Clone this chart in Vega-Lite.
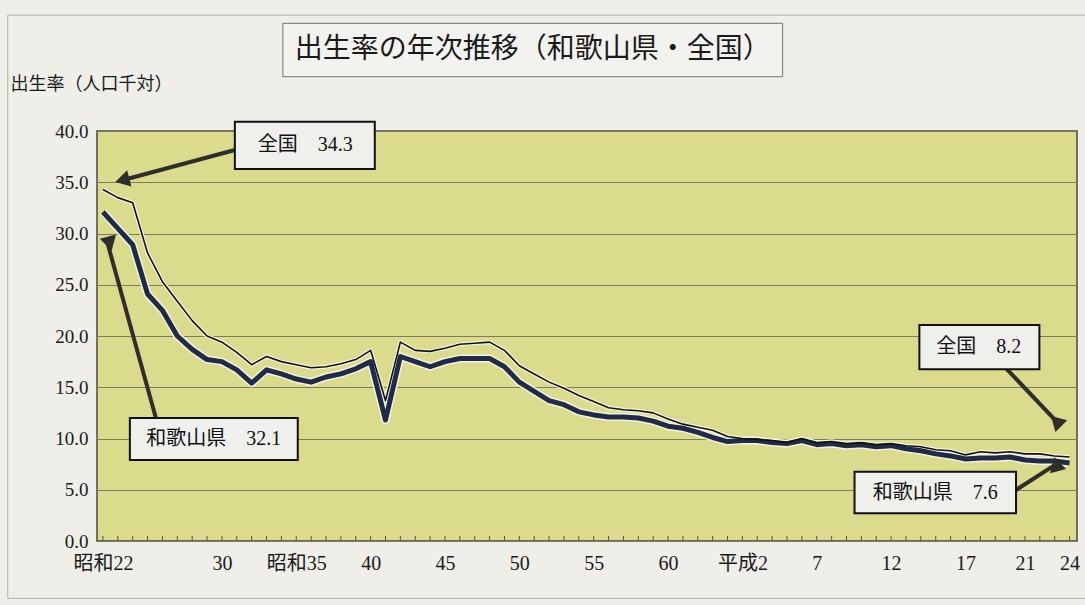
{
  "$schema": "https://vega.github.io/schema/vega-lite/v6.json",
  "autosize": {"type": "none"},
  "width": 980,
  "height": 410,
  "padding": {"left": 97, "top": 131, "right": 8, "bottom": 64},
  "background": "#efeee8",
  "config": {
    "view": {"fill": "#dbdb8e", "stroke": "#4a4a40", "strokeWidth": 1.5},
    "font": "Liberation Serif, Noto Sans CJK JP"
  },
  "datasets": {
    "rates": [
      {"year": 1947, "national": 34.3, "wakayama": 32.1},
      {"year": 1948, "national": 33.5, "wakayama": 30.5},
      {"year": 1949, "national": 33.0, "wakayama": 28.9},
      {"year": 1950, "national": 28.1, "wakayama": 24.1},
      {"year": 1951, "national": 25.3, "wakayama": 22.5},
      {"year": 1952, "national": 23.4, "wakayama": 20.0},
      {"year": 1953, "national": 21.5, "wakayama": 18.7},
      {"year": 1954, "national": 20.0, "wakayama": 17.7},
      {"year": 1955, "national": 19.4, "wakayama": 17.5},
      {"year": 1956, "national": 18.4, "wakayama": 16.7},
      {"year": 1957, "national": 17.2, "wakayama": 15.4},
      {"year": 1958, "national": 18.0, "wakayama": 16.7},
      {"year": 1959, "national": 17.5, "wakayama": 16.3},
      {"year": 1960, "national": 17.2, "wakayama": 15.8},
      {"year": 1961, "national": 16.9, "wakayama": 15.5},
      {"year": 1962, "national": 17.0, "wakayama": 16.0},
      {"year": 1963, "national": 17.3, "wakayama": 16.3},
      {"year": 1964, "national": 17.7, "wakayama": 16.8},
      {"year": 1965, "national": 18.6, "wakayama": 17.5},
      {"year": 1966, "national": 13.7, "wakayama": 11.8},
      {"year": 1967, "national": 19.4, "wakayama": 18.0},
      {"year": 1968, "national": 18.6, "wakayama": 17.5},
      {"year": 1969, "national": 18.5, "wakayama": 17.0},
      {"year": 1970, "national": 18.8, "wakayama": 17.5},
      {"year": 1971, "national": 19.2, "wakayama": 17.8},
      {"year": 1972, "national": 19.3, "wakayama": 17.8},
      {"year": 1973, "national": 19.4, "wakayama": 17.8},
      {"year": 1974, "national": 18.6, "wakayama": 17.0},
      {"year": 1975, "national": 17.1, "wakayama": 15.5},
      {"year": 1976, "national": 16.3, "wakayama": 14.6},
      {"year": 1977, "national": 15.5, "wakayama": 13.7},
      {"year": 1978, "national": 14.9, "wakayama": 13.3},
      {"year": 1979, "national": 14.2, "wakayama": 12.6},
      {"year": 1980, "national": 13.6, "wakayama": 12.3},
      {"year": 1981, "national": 13.0, "wakayama": 12.1},
      {"year": 1982, "national": 12.8, "wakayama": 12.1},
      {"year": 1983, "national": 12.7, "wakayama": 12.0},
      {"year": 1984, "national": 12.5, "wakayama": 11.7},
      {"year": 1985, "national": 11.9, "wakayama": 11.2},
      {"year": 1986, "national": 11.4, "wakayama": 11.0},
      {"year": 1987, "national": 11.1, "wakayama": 10.6},
      {"year": 1988, "national": 10.8, "wakayama": 10.1},
      {"year": 1989, "national": 10.2, "wakayama": 9.7},
      {"year": 1990, "national": 10.0, "wakayama": 9.8},
      {"year": 1991, "national": 9.9, "wakayama": 9.8},
      {"year": 1992, "national": 9.8, "wakayama": 9.6},
      {"year": 1993, "national": 9.6, "wakayama": 9.5},
      {"year": 1994, "national": 10.0, "wakayama": 9.8},
      {"year": 1995, "national": 9.6, "wakayama": 9.4},
      {"year": 1996, "national": 9.7, "wakayama": 9.5},
      {"year": 1997, "national": 9.5, "wakayama": 9.3},
      {"year": 1998, "national": 9.6, "wakayama": 9.4},
      {"year": 1999, "national": 9.4, "wakayama": 9.2},
      {"year": 2000, "national": 9.5, "wakayama": 9.3},
      {"year": 2001, "national": 9.3, "wakayama": 9.0},
      {"year": 2002, "national": 9.2, "wakayama": 8.8},
      {"year": 2003, "national": 8.9, "wakayama": 8.5},
      {"year": 2004, "national": 8.8, "wakayama": 8.3},
      {"year": 2005, "national": 8.4, "wakayama": 8.0},
      {"year": 2006, "national": 8.7, "wakayama": 8.1},
      {"year": 2007, "national": 8.6, "wakayama": 8.1},
      {"year": 2008, "national": 8.7, "wakayama": 8.2},
      {"year": 2009, "national": 8.5, "wakayama": 7.9},
      {"year": 2010, "national": 8.5, "wakayama": 7.8},
      {"year": 2011, "national": 8.3, "wakayama": 7.8},
      {"year": 2012, "national": 8.2, "wakayama": 7.6}
    ],
    "frame": [
      {"x1": 1940.6, "x2": 2014.5, "y1": 51.3, "y2": -5.6}
    ],
    "boxes": [
      {"id": "title", "x1": 1959.1, "x2": 1992.7, "y1": 50.5, "y2": 45.3},
      {"id": "b1", "x1": 1955.87, "x2": 1965.28, "y1": 40.9, "y2": 36.3},
      {"id": "b2", "x1": 1948.81, "x2": 1960.1, "y1": 12.0, "y2": 7.9},
      {"id": "b3", "x1": 2001.9, "x2": 2009.97, "y1": 21.07, "y2": 16.75},
      {"id": "b4", "x1": 1997.54, "x2": 2008.4, "y1": 6.76, "y2": 2.7}
    ],
    "arrows": [
      {"id": "a1", "x1": 1955.87, "y1": 38.15, "x2": 1948.3, "y2": 35.2},
      {"id": "a2", "x1": 1950.56, "y1": 12.0, "x2": 1947.26, "y2": 29.3},
      {"id": "a3", "x1": 2007.73, "y1": 16.85, "x2": 2011.1, "y2": 11.7},
      {"id": "a4", "x1": 2008.4, "y1": 4.98, "x2": 2011.1, "y2": 7.5}
    ],
    "labels": [
      {"kind": "title", "text": "出生率の年次推移（和歌山県・全国）", "x": 1975.9, "y": 47.9},
      {"kind": "note", "text": "全国　34.3", "x": 1960.6, "y": 38.6},
      {"kind": "note", "text": "和歌山県　32.1", "x": 1954.45, "y": 9.95},
      {"kind": "note", "text": "全国　8.2", "x": 2005.9, "y": 18.9},
      {"kind": "note", "text": "和歌山県　7.6", "x": 2002.97, "y": 4.73}
    ]
  },
  "layer": [
    {
      "data": {"name": "frame"},
      "mark": {"type": "rect", "fill": null, "stroke": "#b4b3aa", "strokeWidth": 1},
      "encoding": {
        "x": {"field": "x1", "type": "quantitative", "scale": {"domain": [1946.6, 2012.5], "nice": false, "zero": false}},
        "x2": {"field": "x2"},
        "y": {"field": "y1", "type": "quantitative", "scale": {"domain": [0, 40], "nice": false}},
        "y2": {"field": "y2"}
      }
    },
    {
      "data": {"name": "rates"},
      "mark": {"type": "rule", "color": "#55554a", "strokeWidth": 1},
      "encoding": {
        "x": {
          "field": "year", "type": "quantitative",
          "scale": {"domain": [1946.6, 2012.5], "nice": false, "zero": false},
          "axis": {
            "title": null,
            "values": [1947, 1955, 1960, 1965, 1970, 1975, 1980, 1985, 1990, 1995, 2000, 2005, 2009, 2012],
            "labelExpr": "datum.value == 1947 ? '昭和22' : datum.value == 1960 ? '昭和35' : datum.value == 1990 ? '平成2' : datum.value < 1989 ? '' + (datum.value - 1925) : '' + (datum.value - 1988)",
            "grid": false,
            "ticks": false,
            "domain": false,
            "labelFont": "Liberation Serif, Noto Sans CJK JP",
            "labelFontSize": 20,
            "labelColor": "#1a1a1a",
            "labelPadding": 12,
            "labelFlush": false,
            "labelOverlap": false
          }
        },
        "y": {
          "datum": 0, "type": "quantitative",
          "scale": {"domain": [0, 40], "nice": false},
          "axis": {
            "values": [0, 5, 10, 15, 20, 25, 30, 35, 40],
            "format": ".1f",
            "grid": true,
            "gridColor": "#7d7d5e",
            "gridWidth": 1,
            "ticks": false,
            "domain": false,
            "labelFont": "Liberation Serif, Noto Sans CJK JP",
            "labelFontSize": 19,
            "labelColor": "#1a1a1a",
            "labelPadding": 9,
            "title": "出生率（人口千対）",
            "titleAngle": 0,
            "titleX": -87,
            "titleY": -47,
            "titleAlign": "left",
            "titleBaseline": "middle",
            "titleFont": "Liberation Serif, Noto Sans CJK JP",
            "titleFontSize": 18,
            "titleFontWeight": "normal",
            "titleColor": "#1a1a1a"
          }
        },
        "y2": {"datum": 0.5}
      }
    },
    {
      "data": {"name": "rates"},
      "mark": {"type": "line", "color": "#f4f3dc", "strokeWidth": 4, "strokeJoin": "round"},
      "encoding": {
        "x": {"field": "year", "type": "quantitative", "scale": {"domain": [1946.6, 2012.5], "nice": false, "zero": false}},
        "y": {"field": "national", "type": "quantitative", "scale": {"domain": [0, 40], "nice": false}}
      }
    },
    {
      "data": {"name": "rates"},
      "mark": {"type": "line", "color": "#f4f3dc", "strokeWidth": 8, "strokeJoin": "round"},
      "encoding": {
        "x": {"field": "year", "type": "quantitative", "scale": {"domain": [1946.6, 2012.5], "nice": false, "zero": false}},
        "y": {"field": "wakayama", "type": "quantitative", "scale": {"domain": [0, 40], "nice": false}}
      }
    },
    {
      "data": {"name": "rates"},
      "mark": {"type": "line", "color": "#1f2b48", "strokeWidth": 5, "strokeJoin": "round"},
      "encoding": {
        "x": {"field": "year", "type": "quantitative", "scale": {"domain": [1946.6, 2012.5], "nice": false, "zero": false}},
        "y": {"field": "wakayama", "type": "quantitative", "scale": {"domain": [0, 40], "nice": false}}
      }
    },
    {
      "data": {"name": "rates"},
      "mark": {"type": "line", "color": "#111111", "strokeWidth": 1.6, "strokeJoin": "round"},
      "encoding": {
        "x": {"field": "year", "type": "quantitative", "scale": {"domain": [1946.6, 2012.5], "nice": false, "zero": false}},
        "y": {"field": "national", "type": "quantitative", "scale": {"domain": [0, 40], "nice": false}}
      }
    },
    {
      "data": {"name": "boxes"},
      "transform": [{"filter": "datum.id == 'title'"}],
      "mark": {"type": "rect", "fill": "#f2f2ee", "stroke": "#8a8a86", "strokeWidth": 1.2},
      "encoding": {
        "x": {"field": "x1", "type": "quantitative", "scale": {"domain": [1946.6, 2012.5], "nice": false, "zero": false}},
        "x2": {"field": "x2"},
        "y": {"field": "y1", "type": "quantitative", "scale": {"domain": [0, 40], "nice": false}},
        "y2": {"field": "y2"}
      }
    },
    {
      "data": {"name": "arrows"},
      "mark": {"type": "rule", "color": "#2e2e2a", "strokeWidth": 4},
      "encoding": {
        "x": {"field": "x1", "type": "quantitative", "scale": {"domain": [1946.6, 2012.5], "nice": false, "zero": false}},
        "x2": {"field": "x2"},
        "y": {"field": "y1", "type": "quantitative", "scale": {"domain": [0, 40], "nice": false}},
        "y2": {"field": "y2"}
      }
    },
    {
      "data": {"name": "arrows"},
      "mark": {"type": "point", "shape": "triangle-up", "filled": true, "color": "#2e2e2a", "size": 280, "opacity": 1},
      "encoding": {
        "x": {"field": "x2", "type": "quantitative", "scale": {"domain": [1946.6, 2012.5], "nice": false, "zero": false}},
        "y": {"field": "y2", "type": "quantitative", "scale": {"domain": [0, 40], "nice": false}},
        "angle": {"field": "id", "type": "nominal", "scale": {"domain": ["a1", "a2", "a3", "a4"], "range": [255, 345, 137, 57]}, "legend": null}
      }
    },
    {
      "data": {"name": "boxes"},
      "transform": [{"filter": "datum.id != 'title'"}],
      "mark": {"type": "rect", "fill": "#efefec", "stroke": "#111111", "strokeWidth": 2},
      "encoding": {
        "x": {"field": "x1", "type": "quantitative", "scale": {"domain": [1946.6, 2012.5], "nice": false, "zero": false}},
        "x2": {"field": "x2"},
        "y": {"field": "y1", "type": "quantitative", "scale": {"domain": [0, 40], "nice": false}},
        "y2": {"field": "y2"}
      }
    },
    {
      "data": {"name": "labels"},
      "transform": [{"filter": "datum.kind == 'title'"}],
      "mark": {"type": "text", "fontSize": 28, "color": "#1a1a1a", "align": "center", "baseline": "middle", "font": "Liberation Serif, Noto Sans CJK JP"},
      "encoding": {
        "x": {"field": "x", "type": "quantitative", "scale": {"domain": [1946.6, 2012.5], "nice": false, "zero": false}},
        "y": {"field": "y", "type": "quantitative", "scale": {"domain": [0, 40], "nice": false}},
        "text": {"field": "text"}
      }
    },
    {
      "data": {"name": "labels"},
      "transform": [{"filter": "datum.kind == 'note'"}],
      "mark": {"type": "text", "fontSize": 20, "color": "#111111", "align": "center", "baseline": "middle", "font": "Liberation Serif, Noto Sans CJK JP"},
      "encoding": {
        "x": {"field": "x", "type": "quantitative", "scale": {"domain": [1946.6, 2012.5], "nice": false, "zero": false}},
        "y": {"field": "y", "type": "quantitative", "scale": {"domain": [0, 40], "nice": false}},
        "text": {"field": "text"}
      }
    }
  ]
}
